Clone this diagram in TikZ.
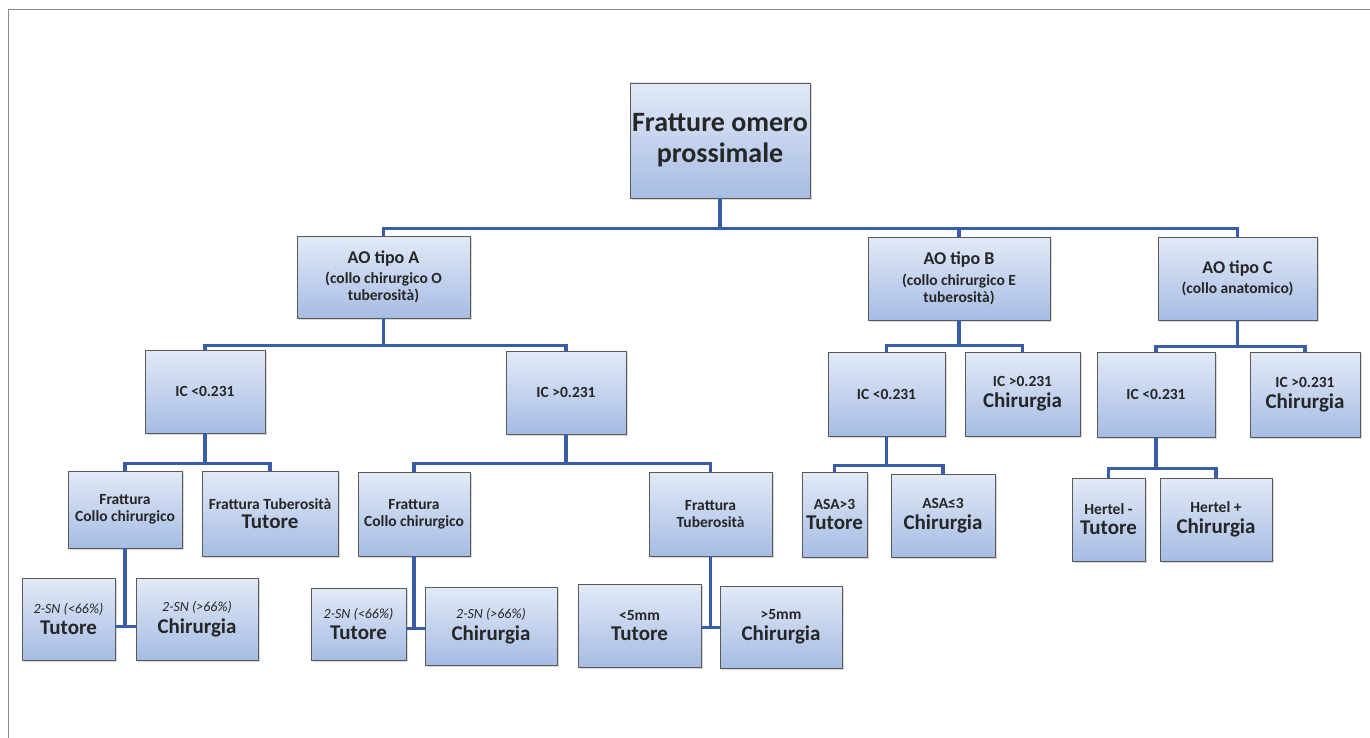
\documentclass[tikz,border=0pt]{standalone}
\usepackage{fontspec}
\setmainfont{Carlito}
\usetikzlibrary{shadows}

\definecolor{boxtop}{HTML}{E2EAF7}
\definecolor{boxbot}{HTML}{A6BCE4}
\definecolor{linkblue}{HTML}{3B5CA6}

\newcommand{\rootsz}{\fontsize{28}{32}\selectfont}
\newcommand{\aosz}{\fontsize{18}{21}\selectfont}
\newcommand{\subsz}{\fontsize{15.5}{19}\selectfont}
\newcommand{\condsz}{\fontsize{15.5}{19}\selectfont}
\newcommand{\snsz}{\fontsize{14}{17}\selectfont}
\newcommand{\outsz}{\fontsize{21}{24}\selectfont}

\tikzset{
  box/.style={draw=black!65, line width=0.8pt, top color=boxtop, bottom color=boxbot,
    align=center, inner sep=2pt, text=black!85, font=\bfseries,
    drop shadow={opacity=0.3, shadow xshift=1.5pt, shadow yshift=-2pt}},
  link/.style={draw=linkblue, line width=3.2pt},
  frame/.style={draw=black!45, line width=1pt}
}

\begin{document}
\begin{tikzpicture}[x=1pt,y=-1pt]
\useasboundingbox (0,0) rectangle (1370,738);
\draw[frame] (8,10) -- (1370,10);
\draw[frame] (8,10) -- (8,738);

% root and AO types
\node[box, font=\bfseries\rootsz, minimum width=180, minimum height=115] (root) at (720,140.5)
  {Fratture omero\\[-1pt]prossimale};
\node[box, minimum width=173, minimum height=82] (aoA) at (383.5,277)
  {\aosz AO tipo A\\[5pt]\subsz (collo chirurgico O\\[2pt]\subsz tuberosità)};
\node[box, minimum width=182, minimum height=83] (aoB) at (959,278.5)
  {\aosz AO tipo B\\[5pt]\subsz (collo chirurgico E\\[2pt]\subsz tuberosità)};
\node[box, minimum width=159, minimum height=83] (aoC) at (1237.5,278.5)
  {\aosz AO tipo C\\[5pt]\subsz (collo anatomico)};

% IC level
\node[box, minimum width=120, minimum height=83] (icA1) at (205,391.5) {\condsz IC <0.231};
\node[box, minimum width=120, minimum height=83] (icA2) at (566,392.5) {\condsz IC >0.231};
\node[box, minimum width=117, minimum height=84] (icB1) at (886.5,394) {\condsz IC <0.231};
\node[box, minimum width=115, minimum height=84] (icB2) at (1022.5,394)
  {\condsz IC >0.231\\[5pt]\outsz Chirurgia};
\node[box, minimum width=118, minimum height=85] (icC1) at (1156,394.5) {\condsz IC <0.231};
\node[box, minimum width=110, minimum height=85] (icC2) at (1305,394.5)
  {\condsz IC >0.231\\[5pt]\outsz Chirurgia};

% fracture / ASA / Hertel level
\node[box, minimum width=114, minimum height=77] (fcA) at (125,509.5)
  {\condsz Frattura\\[5pt]\condsz Collo chirurgico};
\node[box, minimum width=136, minimum height=85] (ftA) at (270,513.5)
  {\condsz Frattura Tuberosità\\[5pt]\outsz Tutore};
\node[box, minimum width=112, minimum height=84] (fcB) at (414,514)
  {\condsz Frattura\\[5pt]\condsz Collo chirurgico};
\node[box, minimum width=123, minimum height=84] (ftB) at (710.5,514)
  {\condsz Frattura\\[5pt]\condsz Tuberosità};
\node[box, minimum width=65, minimum height=85] (asa1) at (834.5,514.5)
  {\condsz ASA>3\\[5pt]\outsz Tutore};
\node[box, minimum width=104, minimum height=83] (asa2) at (943,515.5)
  {\condsz ASA≤3\\[5pt]\outsz Chirurgia};
\node[box, minimum width=73, minimum height=83] (her1) at (1108.5,519.5)
  {\condsz Hertel -\\[5pt]\outsz Tutore};
\node[box, minimum width=112, minimum height=83] (her2) at (1216,519.5)
  {\condsz Hertel +\\[5pt]\outsz Chirurgia};

% bottom level
\node[box, minimum width=93, minimum height=82] (sn1) at (68.5,619)
  {\snsz\mdseries\itshape 2-SN (<66\%)\\[5pt]\outsz Tutore};
\node[box, minimum width=122, minimum height=82] (sn2) at (197,619)
  {\snsz\mdseries\itshape 2-SN (>66\%)\\[5pt]\outsz Chirurgia};
\node[box, minimum width=95, minimum height=72] (sn3) at (358.5,624)
  {\snsz\mdseries\itshape 2-SN (<66\%)\\[5pt]\outsz Tutore};
\node[box, minimum width=132, minimum height=78] (sn4) at (491,626)
  {\snsz\mdseries\itshape 2-SN (>66\%)\\[5pt]\outsz Chirurgia};
\node[box, minimum width=123, minimum height=83] (mm1) at (639.5,625.5)
  {\condsz <5mm\\[5pt]\outsz Tutore};
\node[box, minimum width=122, minimum height=82] (mm2) at (781,627)
  {\condsz >5mm\\[5pt]\outsz Chirurgia};

% connectors
\draw[link] (root.south) -- ++(0,30) coordinate (j0);
\draw[link] (aoA.north) |- (j0) -| (aoC.north);
\draw[link] (aoB.north) -- (aoB.north |- j0);

\draw[link] (aoA.south) -- ++(0,27) coordinate (jA);
\draw[link] (icA1.north) |- (jA) -| (icA2.north);
\draw[link] (aoB.south) -- ++(0,25) coordinate (jB);
\draw[link] (icB1.north) |- (jB) -| (icB2.north);
\draw[link] (aoC.south) -- ++(0,26) coordinate (jC);
\draw[link] (icC1.north) |- (jC) -| (icC2.north);

\draw[link] (icA1.south) -- ++(0,30) coordinate (jA1);
\draw[link] (fcA.north) |- (jA1) -| (ftA.north);
\draw[link] (icA2.south) -- ++(0,29) coordinate (jA2);
\draw[link] (fcB.north) |- (jA2) -| (ftB.north);
\draw[link] (icB1.south) -- ++(0,29) coordinate (jB1);
\draw[link] (asa1.north) |- (jB1) -| (asa2.north);
\draw[link] (icC1.south) -- ++(0,31) coordinate (jC1);
\draw[link] (her1.north) |- (jC1) -| (her2.north);

\draw[link] (fcA.south) -- ++(0,78) coordinate (jF1);
\draw[link] (sn1.east |- jF1) -- (sn2.west |- jF1);
\draw[link] (fcB.south) -- ++(0,72) coordinate (jF2);
\draw[link] (sn3.east |- jF2) -- (sn4.west |- jF2);
\draw[link] (ftB.south) -- ++(0,71) coordinate (jF3);
\draw[link] (mm1.east |- jF3) -- (mm2.west |- jF3);
\end{tikzpicture}
\end{document}
